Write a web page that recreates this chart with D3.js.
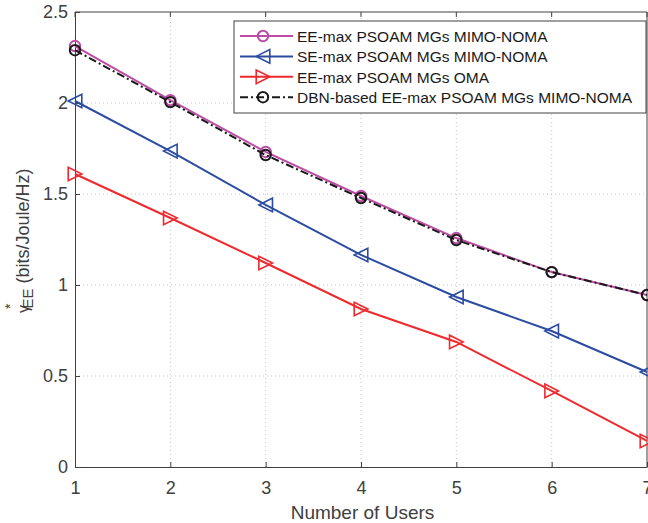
<!DOCTYPE html>
<html>
<head>
<meta charset="utf-8">
<script src="https://cdn.jsdelivr.net/npm/d3@7"></script>
<style>
  html, body { margin: 0; padding: 0; background: #fff; }
  svg { display: block; font-family: "Liberation Sans", Arial, sans-serif; }
</style>
</head>
<body>
<svg id="chart" width="648" height="523"></svg>
<script>
// Number of users on the x axis
const users = [1, 2, 3, 4, 5, 6, 7];

// Energy efficiency (bits/Joule/Hz) per scheme
const eeMaxNoma  = [2.313, 2.016, 1.731, 1.489, 1.258, 1.071, 0.945];
const seMaxNoma  = [2.011, 1.736, 1.440, 1.165, 0.934, 0.747, 0.522];
const eeMaxOma   = [1.610, 1.368, 1.121, 0.868, 0.687, 0.418, 0.143];
const dbnEeNoma  = [2.290, 2.005, 1.714, 1.478, 1.247, 1.071, 0.945];

const xTicks = [1, 2, 3, 4, 5, 6, 7];
const yTicks = [0, 0.5, 1, 1.5, 2, 2.5];

const seriesNames = [
  "EE-max PSOAM MGs MIMO-NOMA",
  "SE-max PSOAM MGs MIMO-NOMA",
  "EE-max PSOAM MGs OMA",
  "DBN-based EE-max PSOAM MGs MIMO-NOMA"
];

const series = [
  { name: seriesNames[0], values: eeMaxNoma, color: "#BE4CA5", marker: "circle", dash: null },
  { name: seriesNames[1], values: seMaxNoma, color: "#2C4CA2", marker: "triLeft", dash: null },
  { name: seriesNames[2], values: eeMaxOma,  color: "#EE2A2E", marker: "triRight", dash: null },
  { name: seriesNames[3], values: dbnEeNoma, color: "#1A1A1A", marker: "circle", dash: "8,3,2,3" }
];

const svg = d3.select("#chart");

const x = d3.scaleLinear().domain([1, 7]).range([75, 647]);
const y = d3.scaleLinear().domain([0, 2.5]).range([467, 12]);

const axisColor = "#404040";

// Grid lines
const grid = svg.append("g");
grid.selectAll(".gx").data(xTicks.slice(1, -1)).enter().append("line")
  .attr("x1", d => x(d)).attr("x2", d => x(d))
  .attr("y1", y(0)).attr("y2", y(2.5))
  .attr("stroke", "#c4c4c4").attr("stroke-width", 1).attr("stroke-dasharray", "1,3");
grid.selectAll(".gy").data(yTicks.slice(1, -1)).enter().append("line")
  .attr("x1", x(1)).attr("x2", x(7))
  .attr("y1", d => y(d)).attr("y2", d => y(d))
  .attr("stroke", "#c4c4c4").attr("stroke-width", 1).attr("stroke-dasharray", "1,3");

// Axes with inward ticks
const xAxis = svg.append("g").attr("transform", `translate(0,${y(0)})`)
  .call(d3.axisBottom(x).tickValues(xTicks).tickFormat(d3.format("d")).tickSizeInner(-5).tickSizeOuter(0).tickPadding(14));
const yAxis = svg.append("g").attr("transform", `translate(${x(1)},0)`)
  .call(d3.axisLeft(y).tickValues(yTicks).tickFormat(d => String(d)).tickSizeInner(-5).tickSizeOuter(0).tickPadding(7));
[xAxis, yAxis].forEach(a => {
  a.select(".domain").attr("stroke", axisColor).attr("stroke-width", 1);
  a.selectAll(".tick line").attr("stroke", axisColor);
  a.selectAll(".tick text").attr("fill", axisColor).attr("font-size", 18)
    .attr("font-family", "Liberation Sans, Arial, sans-serif");
});

// Top and right edges of the axes box
svg.append("line").attr("x1", x(1)).attr("x2", x(7)).attr("y1", y(2.5)).attr("y2", y(2.5))
  .attr("stroke", axisColor).attr("stroke-width", 1);
svg.append("line").attr("x1", x(7)).attr("x2", x(7)).attr("y1", y(2.5)).attr("y2", y(0))
  .attr("stroke", axisColor).attr("stroke-width", 1);
svg.selectAll(".tt").data(xTicks).enter().append("line")
  .attr("x1", d => x(d)).attr("x2", d => x(d)).attr("y1", y(2.5)).attr("y2", y(2.5) + 5)
  .attr("stroke", axisColor);

// Marker drawing
function drawMarker(g, type, cx, cy, color) {
  if (type === "circle") {
    g.append("circle").attr("cx", cx).attr("cy", cy).attr("r", 5.2)
      .attr("fill", "none").attr("stroke", color).attr("stroke-width", 2);
  } else {
    const s = 6.8;
    const pts = type === "triLeft"
      ? [[cx - s, cy], [cx + s, cy - s], [cx + s, cy + s]]
      : [[cx + s, cy], [cx - s, cy - s], [cx - s, cy + s]];
    g.append("polygon").attr("points", pts.map(p => p.join(",")).join(" "))
      .attr("fill", "none").attr("stroke", color).attr("stroke-width", 1.6);
  }
}

const line = d3.line().x((d, i) => x(users[i])).y(d => y(d));
const plot = svg.append("g");
series.forEach(s => {
  plot.append("path").datum(s.values).attr("d", line)
    .attr("fill", "none").attr("stroke", s.color).attr("stroke-width", 2)
    .attr("stroke-dasharray", s.dash);
  s.values.forEach((v, i) => drawMarker(plot, s.marker, x(users[i]), y(v), s.color));
});

// Axis titles
svg.append("text").attr("x", 362.5).attr("y", 519).attr("text-anchor", "middle")
  .attr("font-size", 19).attr("fill", axisColor).text("Number of Users");

// y title: gamma with stacked superscript * and subscript EE
const yt = svg.append("text").attr("transform", "translate(29,313) rotate(-90)")
  .attr("text-anchor", "start").attr("font-size", 18).attr("fill", axisColor);
yt.append("tspan").attr("font-size", 16).text("γ");
yt.append("tspan").attr("font-size", 14).attr("dy", -14).attr("dx", -4).text("*");
yt.append("tspan").attr("font-size", 15).attr("dy", 18).attr("dx", -5).text("EE");
yt.append("tspan").attr("dy", -4).text(" (bits/Joule/Hz)");

// Legend
const lg = svg.append("g");
lg.append("rect").attr("x", 234).attr("y", 21).attr("width", 412).attr("height", 92)
  .attr("fill", "#fff").attr("stroke", "#404040").attr("stroke-width", 1);
series.forEach((s, i) => {
  const cy = 36 + i * 20.4;
  lg.append("line").attr("x1", 240).attr("x2", 293).attr("y1", cy).attr("y2", cy)
    .attr("stroke", s.color).attr("stroke-width", 2).attr("stroke-dasharray", s.dash);
  drawMarker(lg, s.marker, 263, cy, s.color);
  lg.append("text").attr("x", 297).attr("y", cy + 5.8).attr("font-size", 15.5)
    .attr("fill", "#1a1a1a").text(s.name);
});
</script>
</body>
</html>
